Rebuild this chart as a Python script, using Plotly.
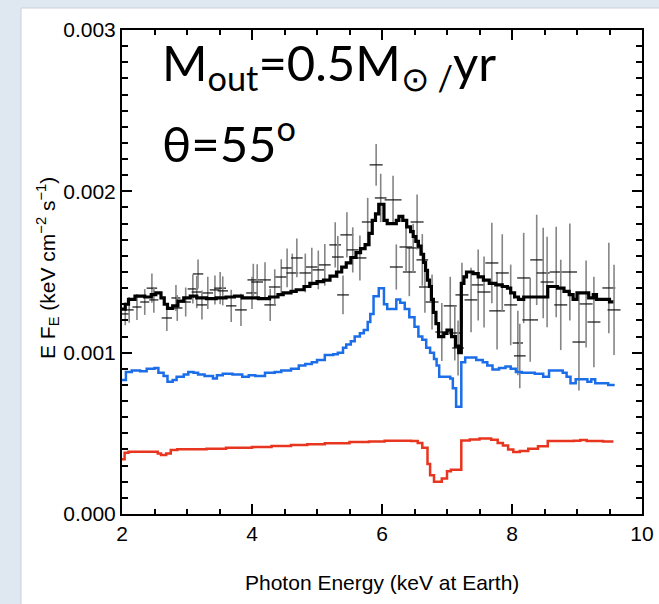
import numpy as np
import plotly.graph_objects as go

U = 1e-3  # values below are in units of 0.001 keV cm^-2 s^-1

# ---- total model (black step curve) ----
bk_E = [2.00,2.05,2.10,2.20,2.35,2.45,2.52,2.60,2.65,2.70,2.78,2.86,2.95,3.05,3.15,3.30,3.45,3.60,3.73,3.85,
        3.97,4.10,4.27,4.40,4.48,4.60,4.68,4.80,4.89,5.00,5.10,5.20,5.30,5.38,5.45,5.52,5.60,5.67,5.74,5.80,
        5.85,5.90,5.95,6.03,6.08,6.14,6.22,6.26,6.32,6.38,6.44,6.48,6.52,6.56,6.60,6.64,6.67,6.70,6.73,6.76,
        6.79,6.83,6.87,6.95,7.00,7.07,7.13,7.18,7.22,7.26,7.30,7.40,7.48,7.56,7.65,7.75,7.85,7.93,7.98,8.04,
        8.10,8.18,8.55,8.70,8.80,8.88,8.94,9.00,9.12,9.18,9.25,9.30,9.45,9.50,9.56]
bk_F = [1.27,1.30,1.33,1.35,1.345,1.36,1.37,1.34,1.30,1.275,1.29,1.32,1.34,1.35,1.34,1.335,1.34,1.345,1.35,1.34,
        1.34,1.335,1.345,1.36,1.37,1.38,1.39,1.41,1.43,1.44,1.45,1.475,1.50,1.53,1.556,1.59,1.62,1.645,1.67,1.74,
        1.82,1.86,1.92,1.82,1.80,1.80,1.82,1.845,1.82,1.78,1.75,1.72,1.69,1.66,1.61,1.56,1.51,1.45,1.41,1.33,
        1.25,1.18,1.10,1.12,1.14,1.10,1.04,1.00,1.43,1.47,1.50,1.49,1.47,1.45,1.43,1.42,1.41,1.40,1.37,1.345,
        1.33,1.345,1.41,1.40,1.38,1.36,1.33,1.37,1.37,1.34,1.36,1.33,1.33,1.315,1.315]

# ---- blue component ----
bl_E = [2.00,2.06,2.15,2.28,2.38,2.50,2.56,2.64,2.70,2.78,2.84,2.95,3.02,3.10,3.17,3.27,3.40,3.46,3.55,3.70,
        3.85,3.95,4.05,4.20,4.35,4.45,4.60,4.72,4.82,4.92,5.00,5.12,5.25,5.32,5.40,5.45,5.52,5.58,5.66,5.72,
        5.78,5.82,5.87,5.95,6.03,6.08,6.22,6.28,6.35,6.42,6.50,6.56,6.62,6.68,6.74,6.80,6.84,6.88,7.05,7.09,
        7.14,7.22,7.28,7.45,7.55,7.62,7.70,7.80,7.90,7.98,8.06,8.15,8.35,8.48,8.57,8.78,8.84,8.90,8.98,9.10,
        9.16,9.22,9.28,9.40,9.48,9.58]
bl_F = [0.83,0.88,0.89,0.885,0.90,0.905,0.875,0.855,0.82,0.83,0.85,0.865,0.88,0.875,0.865,0.856,0.84,0.86,0.87,0.865,
        0.85,0.86,0.855,0.875,0.88,0.89,0.90,0.92,0.93,0.94,0.955,0.985,0.99,1.00,1.03,1.05,1.07,1.10,1.12,1.14,
        1.19,1.24,1.35,1.40,1.30,1.27,1.33,1.31,1.27,1.22,1.16,1.10,1.08,1.03,1.00,0.96,0.92,0.85,0.84,0.78,
        0.665,0.94,0.97,0.955,0.94,0.92,0.895,0.905,0.915,0.90,0.88,0.875,0.87,0.85,0.89,0.875,0.85,0.81,0.835,0.835,
        0.82,0.835,0.81,0.81,0.80,0.80]

# ---- red component ----
rd_E = [2.00,2.04,2.10,2.50,2.55,2.60,2.68,2.75,2.85,3.30,3.60,4.00,4.30,4.60,4.85,5.12,5.50,5.80,6.04,6.45,
        6.55,6.62,6.70,6.74,6.80,6.92,7.00,7.06,7.22,7.35,7.50,7.68,7.78,7.86,7.94,8.02,8.12,8.25,8.40,8.55,
        8.95,9.05,9.15,9.40,9.56]
rd_F = [0.34,0.38,0.386,0.386,0.375,0.366,0.375,0.397,0.401,0.405,0.411,0.415,0.422,0.428,0.432,0.438,0.446,0.450,0.454,0.452,
        0.44,0.41,0.31,0.24,0.20,0.22,0.265,0.275,0.455,0.462,0.468,0.46,0.44,0.425,0.40,0.385,0.39,0.405,0.42,0.452,
        0.454,0.458,0.452,0.45,0.45]

# ---- data points ----
d_E = [2.05,2.11,2.23,2.35,2.46,2.49,2.69,2.83,2.85,2.98,3.09,3.15,3.17,3.23,3.32,3.43,3.51,3.55,3.68,3.83,
       4.00,4.02,4.08,4.20,4.28,4.35,4.45,4.54,4.62,4.69,4.82,4.92,5.02,5.12,5.28,5.32,5.40,5.46,5.55,5.66,
       5.78,5.91,5.98,6.17,6.22,6.37,6.42,6.48,6.54,6.62,6.66,6.77,6.92,7.05,7.12,7.17,7.23,7.37,7.48,7.57,
       7.69,7.77,7.85,7.98,8.09,8.12,8.18,8.28,8.38,8.48,8.54,8.68,8.75,8.89,9.03,9.14,9.26,9.49,9.57]
d_F = [1.24,1.265,1.283,1.314,1.40,1.327,1.215,1.339,1.277,1.314,1.395,1.376,1.488,1.296,1.370,1.389,1.40,1.383,1.29,1.265,
       1.370,1.451,1.438,1.451,1.296,1.407,1.469,1.525,1.494,1.587,1.494,1.531,1.513,1.544,1.668,1.593,1.358,1.730,1.637,1.587,
       1.81,2.164,1.959,1.947,1.531,1.655,1.50,1.649,1.81,1.575,1.407,1.314,1.128,1.29,1.122,1.029,1.358,1.327,1.42,1.376,
       1.556,1.259,1.494,1.296,1.06,0.98,1.463,1.203,1.575,1.494,1.438,1.50,1.296,1.50,1.066,1.302,1.19,1.401,1.265]
d_dE = [0.06,0.07,0.07,0.07,0.08,0.07,0.08,0.07,0.08,0.08,0.08,0.08,0.08,0.08,0.08,0.08,0.09,0.08,0.08,0.09,
        0.09,0.09,0.09,0.09,0.09,0.09,0.09,0.09,0.09,0.09,0.09,0.09,0.09,0.09,0.09,0.09,0.09,0.10,0.09,0.10,
        0.09,0.10,0.09,0.13,0.10,0.10,0.10,0.10,0.10,0.09,0.09,0.10,0.10,0.10,0.09,0.09,0.10,0.10,0.10,0.10,
        0.10,0.12,0.10,0.10,0.08,0.09,0.10,0.12,0.10,0.10,0.10,0.10,0.10,0.11,0.10,0.10,0.10,0.10,0.10]
d_err = [0.07,0.08,0.08,0.08,0.09,0.08,0.08,0.08,0.08,0.09,0.09,0.10,0.09,0.09,0.10,0.09,0.10,0.09,0.10,0.10,
         0.10,0.10,0.11,0.11,0.10,0.11,0.11,0.12,0.12,0.12,0.12,0.12,0.12,0.13,0.14,0.13,0.12,0.14,0.14,0.14,
         0.15,0.13,0.15,0.15,0.14,0.15,0.15,0.15,0.17,0.16,0.16,0.17,0.18,0.18,0.17,0.17,0.20,0.20,0.22,0.22,
         0.25,0.24,0.24,0.25,0.20,0.20,0.28,0.26,0.28,0.28,0.28,0.28,0.28,0.30,0.30,0.27,0.28,0.28,0.28]

x_ticks = [2, 4, 6, 8, 10]
y_ticks = [0.000, 0.001, 0.002, 0.003]

FONT = "Liberation Sans"
FS = 21

fig = go.Figure()

fig.add_trace(go.Scatter(
    x=d_E, y=np.array(d_F) * U, mode="markers",
    marker=dict(size=1, color="rgba(0,0,0,0)"),
    error_y=dict(type="data", array=np.array(d_err) * U, color="#858585", thickness=1.6, width=0),
    error_x=dict(type="data", array=d_dE, color="#111111", thickness=1.2, width=0),
    showlegend=False, hoverinfo="skip"))

for E, F, col, w in [(rd_E, rd_F, "#e8351f", 2.5), (bl_E, bl_F, "#1c6ee8", 2.5), (bk_E, bk_F, "#000000", 3.2)]:
    fig.add_trace(go.Scatter(x=E, y=np.array(F) * U, mode="lines", line=dict(shape="hv", color=col, width=w),
                             showlegend=False, hoverinfo="skip"))

axis_common = dict(showline=True, linecolor="black", linewidth=2, mirror="ticks", ticks="inside",
                   tickcolor="black", tickwidth=2, ticklen=10, showgrid=False, zeroline=False,
                   tickfont=dict(family=FONT, size=FS, color="black"))

fig.update_xaxes(range=[2, 10], tickvals=x_ticks, ticktext=[str(v) for v in x_ticks],
                 minor=dict(dtick=0.5, tick0=2, ticks="inside", ticklen=5, tickwidth=2, tickcolor="black",
                            showgrid=False),
                 **axis_common)
fig.update_yaxes(range=[0, 0.003], tickvals=y_ticks, ticktext=[f"{v:.3f}" for v in y_ticks],
                 minor=dict(dtick=0.0001, tick0=0, ticks="inside", ticklen=6, tickwidth=2, tickcolor="black",
                            showgrid=False),
                 **axis_common)

L, R, T, B = 122, 17, 30, 90
W, H = 659, 604
pw, ph = W - L - R, H - T - B

def px(x):
    return (x - L) / pw

def py(y):
    return (H - B - y) / ph

shapes = [
    dict(type="rect", xref="paper", yref="paper", x0=px(21), x1=px(662), y0=py(8), y1=py(607),
         fillcolor="white", line=dict(color="#c9d2dc", width=1), layer="below"),
]

annotations = [
    dict(x=px(160), y=py(66), xref="paper", yref="paper", xanchor="left", yanchor="middle", showarrow=False,
         text="M<sub>out</sub>=0.5M<sub>⊙ /</sub>yr", font=dict(family="Lato", size=49, color="black")),
    dict(x=px(160), y=py(139), xref="paper", yref="paper", xanchor="left", yanchor="middle", showarrow=False,
         text="θ=55<sup>o</sup>", font=dict(family="Lato", size=49, color="black")),
    dict(x=px(382), y=py(582), xref="paper", yref="paper", xanchor="center", yanchor="middle", showarrow=False,
         text="Photon Energy (keV at Earth)", font=dict(family=FONT, size=FS, color="black")),
    dict(x=px(47), y=py(268), xref="paper", yref="paper", xanchor="center", yanchor="middle", showarrow=False,
         textangle=-90, text="E F<sub>E</sub> (keV cm<sup>−2</sup> s<sup>−1</sup>)",
         font=dict(family=FONT, size=FS, color="black")),
]

fig.update_layout(width=W, height=H, margin=dict(l=L, r=R, t=T, b=B, autoexpand=False),
                  paper_bgcolor="#dfe7f1", plot_bgcolor="white", shapes=shapes, annotations=annotations)

fig.write_html("out.html")
